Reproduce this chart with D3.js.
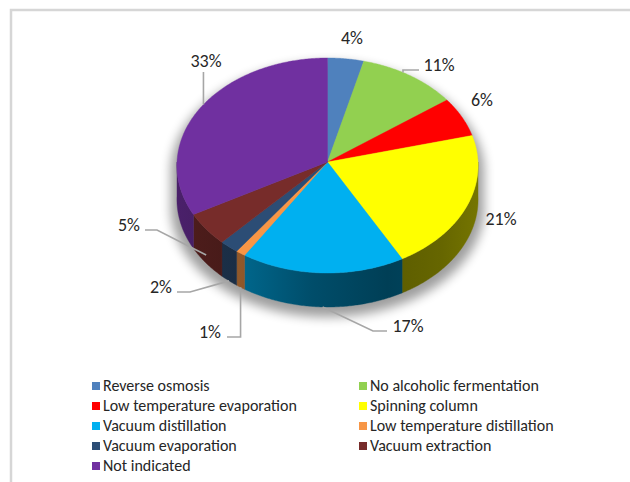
<!DOCTYPE html>
<html>
<head>
<meta charset="utf-8">
<script src="https://cdn.jsdelivr.net/npm/d3@7/dist/d3.min.js"></script>
<style>
  body { margin: 0; background: #ffffff; }
  text { font-family: Carlito, Calibri, Lato, "Noto Sans", sans-serif; fill: #262626; }
</style>
</head>
<body>
<svg id="chart" width="630" height="482"></svg>
<script>
// Dealcoholisation techniques, share of studies
const categories = [
  "Reverse osmosis", "No alcoholic fermentation", "Low temperature evaporation",
  "Spinning column", "Vacuum distillation", "Low temperature distillation",
  "Vacuum evaporation", "Vacuum extraction", "Not indicated"
];
const shares = [4, 11, 6, 21, 17, 1, 2, 5, 33];
const sliceColors = [
  "#4F81BD", "#92D050", "#FF0000", "#FFFF00", "#00B0F0",
  "#F79646", "#2C4D75", "#772C2A", "#7030A0"
];
const valueLabels = shares.map(v => v + "%");

// Label placement (text centre / baseline) and leader style;
// "at" = where along the slice the leader meets the rim, "depth" = how far down the wall
const labelLayout = [
  { x: 352, y: 44 },
  { x: 439, y: 71, leader: "elbow", from: 419, at: 0.42 },
  { x: 482, y: 106 },
  { x: 501, y: 225 },
  { x: 408, y: 332, leader: "elbow", from: 387, elbowX: 373, depth: 1 },
  { x: 210, y: 338, leader: "elbow", from: 227, depth: 1 },
  { x: 161, y: 293, leader: "elbow", from: 177, elbowX: 190, depth: 1 },
  { x: 129, y: 231, leader: "elbow", from: 145, elbowX: 157, depth: 0.76 },
  { x: 206, y: 67, leader: "down", from: 72, at: 0.52 }
];

const svg = d3.select("#chart");

// chart frame (top and left edges fall inside the view)
svg.append("rect")
  .attr("x", 11).attr("y", 10).attr("width", 700).attr("height", 600)
  .attr("fill", "none").attr("stroke", "#D6D6D6").attr("stroke-width", 2.5);

// ---- 3D pie geometry -------------------------------------------------
const cx = 327.5, cy = 162;       // projected pie centre
const rx = 150.5, ry = 107.4;     // horizontal / vertical reach of the top face
const persp = 0.0326;             // mild perspective: front appears larger
const depth = 34;                 // wall height in pixels

// angle measured clockwise from 12 o'clock; h = 0 top face, 1 bottom rim
function project(theta, h = 0) {
  const s = Math.sin(theta), c = Math.cos(theta);
  const k = 1 / (1 + persp * c);
  return [cx + rx * s * k, cy - ry * c * k + h * depth];
}

const pie = d3.pie().sort(null).value(d => d.value);
const arcs = pie(shares.map((v, i) => ({ value: v, name: categories[i], color: sliceColors[i] })));

const line = d3.line();
function sampleArc(a0, a1, h) {
  const n = Math.max(2, Math.ceil(Math.abs(a1 - a0) / 0.01));
  return d3.range(n + 1).map(j => project(a0 + (a1 - a0) * j / n, h));
}

const defs = svg.append("defs");

// soft drop shadow under the pie
const blur = defs.append("filter").attr("id", "pieShadow")
  .attr("x", "-20%").attr("y", "-20%").attr("width", "140%").attr("height", "140%");
blur.append("feGaussianBlur").attr("stdDeviation", 5);

const silhouette = []
  .concat(sampleArc(-Math.PI / 2, Math.PI / 2, 0))
  .concat(sampleArc(Math.PI / 2, 3 * Math.PI / 2, 1));
svg.append("path")
  .attr("d", line(silhouette) + "Z")
  .attr("fill", "#000").attr("opacity", 0.38)
  .attr("transform", `translate(${cx},${cy + 7}) scale(1.04,1.02) translate(${-cx},${-cy})`)
  .attr("filter", "url(#pieShadow)");

// side-wall shading gradient per slice
const shadeStops = [[0, 0.66], [0.22, 0.58], [0.45, 0.44], [0.7, 0.36], [0.88, 0.4], [1, 0.46]];
arcs.forEach(a => {
  const base = d3.rgb(a.data.color);
  const g = defs.append("linearGradient")
    .attr("id", "side" + a.index)
    .attr("gradientUnits", "userSpaceOnUse")
    .attr("x1", cx - rx).attr("x2", cx + rx).attr("y1", 0).attr("y2", 0);
  shadeStops.forEach(([o, k]) => {
    g.append("stop").attr("offset", o)
      .attr("stop-color", d3.rgb(base.r * k, base.g * k, base.b * k).formatHex());
  });
});

// visible walls: the front half of the rim
const front0 = Math.PI / 2, front1 = 3 * Math.PI / 2;
const walls = svg.append("g");
arcs.forEach(a => {
  const s = Math.max(a.startAngle, front0), e = Math.min(a.endAngle, front1);
  if (e <= s) return;
  const pts = sampleArc(s, e, 0).concat(sampleArc(e, s, 1));
  walls.append("path")
    .attr("d", line(pts) + "Z")
    .attr("fill", `url(#side${a.index})`)
    .attr("stroke", `url(#side${a.index})`).attr("stroke-width", 0.4);
});

// top faces
const faces = svg.append("g");
arcs.forEach(a => {
  const pts = [[cx, cy]].concat(sampleArc(a.startAngle, a.endAngle, 0));
  faces.append("path")
    .attr("d", line(pts) + "Z")
    .attr("fill", a.data.color)
    .attr("stroke", a.data.color).attr("stroke-width", 0.4);
});

// ---- value labels and leader lines -----------------------------------
const labels = svg.append("g");
arcs.forEach(a => {
  const L = labelLayout[a.index];
  const t = L.at !== undefined ? L.at : 0.5;
  const ang = a.startAngle + (a.endAngle - a.startAngle) * t;
  if (L.leader) {
    const end = project(ang, L.depth || 0);
    let pts;
    if (L.leader === "down") {
      pts = [[end[0], L.from], end];
    } else {
      const yl = L.y - 1;
      const ex = L.elbowX !== undefined ? L.elbowX : end[0];
      pts = [[L.from, yl], [ex, yl], end];
    }
    labels.append("path")
      .attr("d", line(pts))
      .attr("fill", "none").attr("stroke", "#A6A6A6").attr("stroke-width", 1.6);
  }
  labels.append("text")
    .attr("x", L.x).attr("y", L.y)
    .attr("text-anchor", "middle")
    .attr("font-size", 18)
    .text(valueLabels[a.index]);
});

// ---- legend ------------------------------------------------------------
const legend = svg.append("g");
const colX = [92, 359], rowY0 = 386, rowStep = 20;
categories.forEach((name, i) => {
  const x = colX[i % 2], y = rowY0 + Math.floor(i / 2) * rowStep;
  legend.append("rect")
    .attr("x", x).attr("y", y - 4).attr("width", 8).attr("height", 8)
    .attr("fill", sliceColors[i]);
  legend.append("text")
    .attr("x", x + 11).attr("y", y + 5)
    .attr("font-size", 16)
    .text(name);
});
</script>
</body>
</html>
